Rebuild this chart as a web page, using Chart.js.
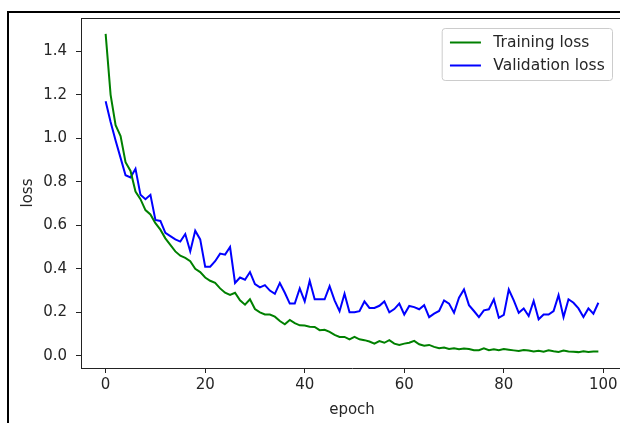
<!DOCTYPE html>
<html>
<head>
<meta charset="utf-8">
<script src="https://cdn.jsdelivr.net/npm/chart.js@4.4.1/dist/chart.umd.min.js"></script>
<style>
  html, body { margin:0; padding:0; background:#fff; overflow:hidden; }
  #wrap { position:relative; width:620px; height:423px; overflow:hidden; }
  #frame { position:absolute; left:7px; top:11px; width:700px; height:500px;
           border-left:2px solid #000; border-top:2px solid #000; }
  #chart { position:absolute; left:0; top:0; }
</style>
</head>
<body>
<div id="wrap">
  <div id="frame"></div>
  <canvas id="chart" width="624" height="423"></canvas>
</div>
<script>
// ── data ─────────────────────────────────────────────
const TRAIN_LOSS = [
  1.48, 1.20, 1.06, 1.01, 0.89, 0.85, 0.755, 0.72, 0.67, 0.65,
  0.61, 0.58, 0.54, 0.51, 0.48, 0.46, 0.45, 0.435, 0.40, 0.385,
  0.36, 0.345, 0.335, 0.31, 0.29, 0.28, 0.29, 0.255, 0.235, 0.26,
  0.215, 0.20, 0.19, 0.19, 0.18, 0.16, 0.145, 0.165, 0.15, 0.14,
  0.139, 0.134, 0.133, 0.118, 0.12, 0.11, 0.096, 0.087, 0.087, 0.076,
  0.087, 0.076, 0.072, 0.066, 0.056, 0.068, 0.06, 0.072, 0.056, 0.05,
  0.056, 0.06, 0.069, 0.053, 0.046, 0.05, 0.041, 0.035, 0.038, 0.031,
  0.035, 0.03, 0.034, 0.031, 0.026, 0.026, 0.034, 0.026, 0.03, 0.026,
  0.031, 0.028, 0.025, 0.022, 0.027, 0.024, 0.02, 0.023, 0.019, 0.025,
  0.021, 0.018, 0.024, 0.02, 0.019, 0.017, 0.021, 0.018, 0.02, 0.02
];
const VAL_LOSS = [
  1.17, 1.075, 0.99, 0.91, 0.83, 0.82, 0.86, 0.74, 0.72, 0.74,
  0.625, 0.62, 0.565, 0.55, 0.535, 0.525, 0.56, 0.48, 0.575, 0.535,
  0.41, 0.41, 0.435, 0.47, 0.465, 0.50, 0.335, 0.36, 0.35, 0.385,
  0.33, 0.315, 0.325, 0.30, 0.285, 0.335, 0.29, 0.24, 0.24, 0.31,
  0.25, 0.345, 0.26, 0.26, 0.26, 0.32, 0.255, 0.205, 0.285, 0.20,
  0.20, 0.205, 0.25, 0.22, 0.22, 0.23, 0.25, 0.20, 0.215, 0.24,
  0.19, 0.229, 0.224, 0.214, 0.233, 0.178, 0.194, 0.206, 0.255, 0.24,
  0.198, 0.267, 0.305, 0.233, 0.206, 0.178, 0.209, 0.214, 0.26, 0.175,
  0.188, 0.305, 0.255, 0.198, 0.218, 0.183, 0.252, 0.168, 0.19, 0.19,
  0.206, 0.279, 0.178, 0.26, 0.244, 0.218, 0.178, 0.218, 0.194, 0.244
];
const EPOCHS  = TRAIN_LOSS.map((_, i) => i);
const X_TICKS = [0, 20, 40, 60, 80, 100];
const Y_TICKS = [0.0, 0.2, 0.4, 0.6, 0.8, 1.0, 1.2, 1.4];

const HIJAU = '#008000';
const BIRU  = '#0000ff';
const TEXT  = '#262626';
const SPINE = '#222222';
const FONT  = { family: 'DejaVu Sans', size: 15 };

// garis atas + kanan (spines matplotlib)
const frameLines = {
  id: 'frameLines',
  afterDatasetsDraw(chart) {
    const { ctx, chartArea: a } = chart;
    ctx.save();
    ctx.strokeStyle = SPINE; ctx.lineWidth = 1;
    ctx.beginPath();
    ctx.moveTo(a.left, a.top + 0.5); ctx.lineTo(a.right, a.top + 0.5);
    ctx.moveTo(a.right - 0.5, a.top); ctx.lineTo(a.right - 0.5, a.bottom);
    ctx.stroke();
    ctx.restore();
  }
};

// legenda gaya matplotlib di pojok kanan atas
const legendBox = {
  id: 'legendBox',
  afterDraw(chart) {
    const { ctx, chartArea: a } = chart;
    const fs = 15.5;
    ctx.save();
    ctx.font = fs + 'px "DejaVu Sans"';
    const items = chart.data.datasets;
    const textW = Math.max(...items.map(d => ctx.measureText(d.label).width));
    const pad = 0.5 * fs, handle = 2 * fs, gap = 0.8 * fs, rowH = 23;
    const w = pad + handle + gap + textW + pad, h = 52;
    const right = a.right - 10.5, top = a.top + 10.5;
    const left = right - w;
    ctx.beginPath(); ctx.roundRect(left, top, w, h, 3);
    ctx.fillStyle = 'rgba(255,255,255,0.8)'; ctx.fill();
    ctx.strokeStyle = '#cccccc'; ctx.lineWidth = 1; ctx.stroke();
    items.forEach((d, i) => {
      const cy = top + 14 + i * rowH;
      ctx.beginPath(); ctx.moveTo(left + pad, cy); ctx.lineTo(left + pad + handle, cy);
      ctx.strokeStyle = d.borderColor; ctx.lineWidth = 2; ctx.stroke();
      ctx.fillStyle = TEXT; ctx.textBaseline = 'middle'; ctx.textAlign = 'left';
      ctx.fillText(d.label, left + pad + handle + gap, cy);
    });
    ctx.restore();
  }
};

const ctx = document.getElementById('chart');
new Chart(ctx, {
  type: 'line',
  data: { datasets: [
    { label: 'Training loss', data: EPOCHS.map((e, i) => ({ x: e, y: TRAIN_LOSS[i] })),
      borderColor: HIJAU, borderWidth: 2, pointRadius: 0, tension: 0, fill: false },
    { label: 'Validation loss', data: EPOCHS.map((e, i) => ({ x: e, y: VAL_LOSS[i] })),
      borderColor: BIRU, borderWidth: 2, pointRadius: 0, tension: 0, fill: false },
  ]},
  options: {
    responsive: false, animation: false, devicePixelRatio: 1,
    layout: { padding: { top: 16, right: 1, left: 0, bottom: 0 } },
    plugins: { legend: { display: false }, tooltip: { enabled: false } },
    scales: {
      x: { type: 'linear', min: -4.95, max: 103.95,
        afterBuildTicks: s => { s.ticks = X_TICKS.map(v => ({ value: v })); },
        afterFit: s => { s.height = 55; },
        ticks: { font: FONT, color: TEXT, padding: 3, maxRotation: 0, callback: v => String(v) },
        grid: { display: true, drawOnChartArea: false, drawTicks: true, tickLength: 5, tickColor: SPINE },
        border: { display: true, color: SPINE, width: 1 },
        title: { display: true, text: 'epoch', font: FONT, color: TEXT, padding: { top: 0, bottom: 4 } } },
      y: { type: 'linear', min: -0.056, max: 1.553,
        afterBuildTicks: s => { s.ticks = Y_TICKS.map(v => ({ value: v })); },
        afterFit: s => { s.width = 81; },
        ticks: { font: FONT, color: TEXT, padding: 9, callback: v => v.toFixed(1) },
        grid: { display: true, drawOnChartArea: false, drawTicks: true, tickLength: 5, tickColor: SPINE },
        border: { display: true, color: SPINE, width: 1 },
        title: { display: true, text: 'loss', font: FONT, color: TEXT, padding: { top: 19, bottom: 0 } } }
    }
  },
  plugins: [frameLines, legendBox]
});
</script>
</body>
</html>
